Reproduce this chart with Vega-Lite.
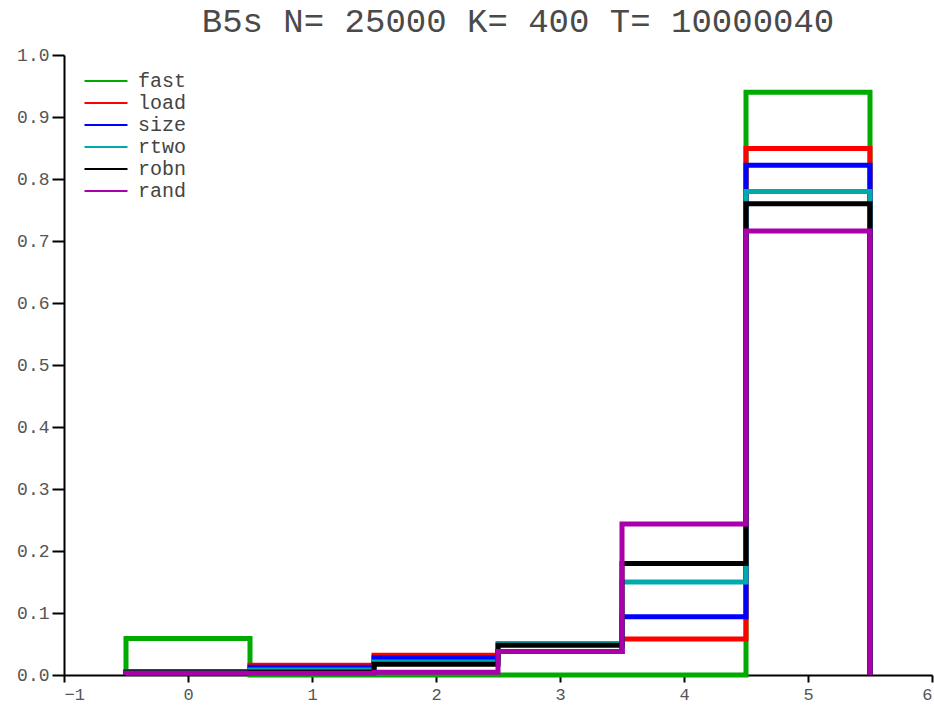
{
  "$schema": "https://vega.github.io/schema/vega-lite/v6.json",
  "autosize": "none",
  "width": 868,
  "height": 620,
  "padding": {"left": 64, "top": 55, "right": 2, "bottom": 31},
  "background": "white",
  "config": {
    "view": {"stroke": null},
    "font": "Liberation Mono",
    "axis": {
      "grid": false,
      "title": null,
      "domainColor": "black",
      "domainWidth": 2,
      "tickColor": "black",
      "tickWidth": 2,
      "labelColor": "#555555",
      "labelFont": "Liberation Mono",
      "labelFontSize": 18
    }
  },
  "title": {
    "text": "B5s N= 25000 K= 400 T= 10000040",
    "orient": "top",
    "frame": "group",
    "font": "Liberation Mono",
    "fontSize": 34,
    "fontWeight": "normal",
    "color": "#4a4a4a",
    "anchor": "middle",
    "baseline": "bottom",
    "offset": 16,
    "dx": 20,
    "dy": 43
  },
  "data": {
    "values": [
      {"series": "fast", "k": 0, "edge": -0.5, "frac": 0},
      {"series": "fast", "k": 1, "edge": -0.5, "frac": 0.059},
      {"series": "fast", "k": 2, "edge": 0.5, "frac": 0},
      {"series": "fast", "k": 3, "edge": 1.5, "frac": 0},
      {"series": "fast", "k": 4, "edge": 2.5, "frac": 0},
      {"series": "fast", "k": 5, "edge": 3.5, "frac": 0},
      {"series": "fast", "k": 6, "edge": 4.5, "frac": 0.940},
      {"series": "fast", "k": 7, "edge": 5.5, "frac": 0},

      {"series": "load", "k": 0, "edge": -0.5, "frac": 0},
      {"series": "load", "k": 1, "edge": -0.5, "frac": 0.0055},
      {"series": "load", "k": 2, "edge": 0.5, "frac": 0.0157},
      {"series": "load", "k": 3, "edge": 1.5, "frac": 0.032},
      {"series": "load", "k": 4, "edge": 2.5, "frac": 0.038},
      {"series": "load", "k": 5, "edge": 3.5, "frac": 0.058},
      {"series": "load", "k": 6, "edge": 4.5, "frac": 0.849},
      {"series": "load", "k": 7, "edge": 5.5, "frac": 0},

      {"series": "size", "k": 0, "edge": -0.5, "frac": 0},
      {"series": "size", "k": 1, "edge": -0.5, "frac": 0.0045},
      {"series": "size", "k": 2, "edge": 0.5, "frac": 0.0124},
      {"series": "size", "k": 3, "edge": 1.5, "frac": 0.028},
      {"series": "size", "k": 4, "edge": 2.5, "frac": 0.038},
      {"series": "size", "k": 5, "edge": 3.5, "frac": 0.094},
      {"series": "size", "k": 6, "edge": 4.5, "frac": 0.822},
      {"series": "size", "k": 7, "edge": 5.5, "frac": 0},

      {"series": "rtwo", "k": 0, "edge": -0.5, "frac": 0},
      {"series": "rtwo", "k": 1, "edge": -0.5, "frac": 0.004},
      {"series": "rtwo", "k": 2, "edge": 0.5, "frac": 0.008},
      {"series": "rtwo", "k": 3, "edge": 1.5, "frac": 0.021},
      {"series": "rtwo", "k": 4, "edge": 2.5, "frac": 0.051},
      {"series": "rtwo", "k": 5, "edge": 3.5, "frac": 0.150},
      {"series": "rtwo", "k": 6, "edge": 4.5, "frac": 0.780},
      {"series": "rtwo", "k": 7, "edge": 5.5, "frac": 0},

      {"series": "robn", "k": 0, "edge": -0.5, "frac": 0},
      {"series": "robn", "k": 1, "edge": -0.5, "frac": 0.0035},
      {"series": "robn", "k": 2, "edge": 0.5, "frac": 0.005},
      {"series": "robn", "k": 3, "edge": 1.5, "frac": 0.0172},
      {"series": "robn", "k": 4, "edge": 2.5, "frac": 0.048},
      {"series": "robn", "k": 5, "edge": 3.5, "frac": 0.180},
      {"series": "robn", "k": 6, "edge": 4.5, "frac": 0.760},
      {"series": "robn", "k": 7, "edge": 5.5, "frac": 0},

      {"series": "rand", "k": 0, "edge": -0.5, "frac": 0},
      {"series": "rand", "k": 1, "edge": -0.5, "frac": 0.0027},
      {"series": "rand", "k": 2, "edge": 0.5, "frac": 0.003},
      {"series": "rand", "k": 3, "edge": 1.5, "frac": 0.0044},
      {"series": "rand", "k": 4, "edge": 2.5, "frac": 0.038},
      {"series": "rand", "k": 5, "edge": 3.5, "frac": 0.2435},
      {"series": "rand", "k": 6, "edge": 4.5, "frac": 0.716},
      {"series": "rand", "k": 7, "edge": 5.5, "frac": 0}
    ]
  },
  "encoding": {
    "x": {
      "field": "edge",
      "type": "quantitative",
      "scale": {"domain": [-1, 6], "nice": false, "zero": false},
      "axis": {
        "values": [-1, 0, 1, 2, 3, 4, 5, 6],
        "format": "d",
        "tickSize": 7,
        "labelPadding": 4,
        "labelFontSize": 17
      }
    },
    "y": {
      "field": "frac",
      "type": "quantitative",
      "scale": {"domain": [0, 1], "nice": false},
      "axis": {
        "values": [0, 0.1, 0.2, 0.3, 0.4, 0.5, 0.6, 0.7, 0.8, 0.9, 1.0],
        "format": ".1f",
        "tickSize": 12,
        "labelPadding": 3
      }
    },
    "color": {
      "field": "series",
      "type": "nominal",
      "scale": {
        "domain": ["fast", "load", "size", "rtwo", "robn", "rand"],
        "range": ["#00aa00", "#ff0000", "#0000ff", "#00aaaa", "#000000", "#aa00aa"]
      },
      "legend": {
        "title": null,
        "orient": "none",
        "legendX": 30,
        "legendY": 14,
        "symbolType": "M-2,0H2",
        "symbolSize": 462,
        "symbolStrokeWidth": 2,
        "labelFont": "Liberation Mono",
        "labelFontSize": 20,
        "labelColor": "#444444",
        "labelOffset": 20,
        "rowPadding": 0,
        "encode": {"symbols": {"update": {"strokeWidth": {"value": 2}}}}
      }
    },
    "order": {"field": "k", "type": "quantitative"}
  },
  "layer": [
    {"transform": [{"filter": "datum.series === 'fast'"}], "mark": {"type": "line", "interpolate": "step-after", "strokeWidth": 5}},
    {"transform": [{"filter": "datum.series === 'load'"}], "mark": {"type": "line", "interpolate": "step-after", "strokeWidth": 5}},
    {"transform": [{"filter": "datum.series === 'size'"}], "mark": {"type": "line", "interpolate": "step-after", "strokeWidth": 5}},
    {"transform": [{"filter": "datum.series === 'rtwo'"}], "mark": {"type": "line", "interpolate": "step-after", "strokeWidth": 5}},
    {"transform": [{"filter": "datum.series === 'robn'"}], "mark": {"type": "line", "interpolate": "step-after", "strokeWidth": 5}},
    {"transform": [{"filter": "datum.series === 'rand'"}], "mark": {"type": "line", "interpolate": "step-after", "strokeWidth": 5}}
  ]
}
